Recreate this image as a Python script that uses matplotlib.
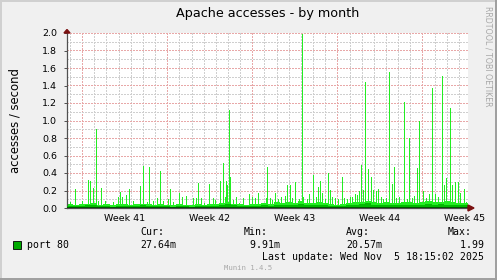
import numpy as np
import matplotlib
matplotlib.use("Agg")
import matplotlib.pyplot as plt
from matplotlib.patches import Rectangle, Polygon
from matplotlib.lines import Line2D

# spikes of the max series (day offset from graph start, accesses/s)
spike_day = [0.02, 0.25, 0.62, 1.24, 1.48, 1.73, 1.89, 2.14, 2.39, 2.55, 2.80, 3.13,
             3.38, 3.79, 4.20, 4.37, 4.53, 4.86, 5.11, 5.44, 5.77, 6.01, 6.26, 6.59,
             6.75, 7.08, 7.41, 7.66, 7.91, 8.32, 8.48, 8.73, 9.23, 9.47, 9.80, 10.38,
             10.63, 10.79, 11.04, 11.28, 11.70, 12.03, 12.19, 12.44, 12.60, 12.85, 13.01,
             13.10, 13.18, 13.34, 13.43, 13.67, 13.92, 14.17, 14.50, 14.99, 15.24, 15.49,
             15.73, 16.06, 16.39, 16.47, 16.72, 16.89, 17.13, 17.38, 17.63, 17.96, 18.12,
             18.37, 18.53, 18.78, 19.11, 19.33, 19.44, 19.77, 19.93, 20.26, 20.51, 20.68,
             20.84, 21.00, 21.25, 21.50, 21.66, 21.83, 22.08, 22.32, 22.65, 22.82, 23.06,
             23.31, 23.48, 23.72, 23.89, 24.05, 24.22, 24.38, 24.55, 24.79, 25.04, 25.21,
             25.45, 25.62, 25.86, 26.03, 26.28, 26.52, 26.77, 26.94, 27.10, 27.35, 27.59,
             27.76, 28.01, 28.17, 28.42, 28.58, 28.83, 28.99, 29.32, 29.57, 29.82, 30.07,
             30.31, 30.56, 30.89, 31.05, 31.22, 31.55, 31.71, 31.96, 32.21, 32.37, 32.70,
             32.87]
spike_max = [0.16, 0.07, 0.22, 0.08, 0.05, 0.32, 0.31, 0.23, 0.90, 0.08, 0.23, 0.08,
             0.05, 0.07, 0.13, 0.18, 0.13, 0.15, 0.22, 0.08, 0.05, 0.25, 0.48, 0.07,
             0.47, 0.08, 0.12, 0.42, 0.08, 0.10, 0.22, 0.07, 0.17, 0.13, 0.14, 0.12,
             0.12, 0.29, 0.12, 0.06, 0.28, 0.12, 0.09, 0.05, 0.31, 0.51, 0.13,
             0.31, 0.26, 1.12, 0.35, 0.09, 0.13, 0.06, 0.12, 0.16, 0.13, 0.11,
             0.17, 0.06, 0.12, 0.47, 0.11, 0.09, 0.17, 0.10, 0.13, 0.14, 0.26,
             0.26, 0.12, 0.30, 0.10, 1.99, 0.13, 0.10, 0.16, 0.38, 0.13, 0.24,
             0.31, 0.17, 0.10, 0.40, 0.21, 0.13, 0.12, 0.10, 0.35, 0.12, 0.10,
             0.13, 0.13, 0.16, 0.15, 0.19, 0.49, 0.21, 1.44, 0.45, 0.35, 0.21,
             0.20, 0.22, 0.13, 0.10, 0.11, 1.55, 0.27, 0.47, 0.11, 0.13, 0.07,
             1.21, 0.10, 0.80, 0.12, 0.14, 0.46, 1.00, 0.19, 0.12, 0.16, 1.37,
             0.16, 0.13, 1.51, 0.26, 0.34, 1.14, 0.26, 0.30, 0.30, 0.17, 0.22,
             0.07]

# half-day levels
max_base = [0.05, 0.04, 0.045, 0.05, 0.055, 0.04, 0.045, 0.035, 0.045, 0.05, 0.04, 0.045,
            0.05, 0.045, 0.04, 0.045, 0.04, 0.04, 0.045, 0.04, 0.035, 0.045, 0.04, 0.045,
            0.045, 0.055, 0.065, 0.05, 0.045, 0.04, 0.045, 0.045, 0.055, 0.045, 0.065, 0.055,
            0.065, 0.06, 0.075, 0.055, 0.06, 0.065, 0.055, 0.045, 0.04, 0.045, 0.055, 0.065,
            0.065, 0.075, 0.065, 0.055, 0.065, 0.06, 0.055, 0.065, 0.065, 0.055, 0.065, 0.075,
            0.065, 0.065, 0.075, 0.065, 0.06, 0.055]
avg_vals = [0.02, 0.02, 0.02, 0.03, 0.03, 0.02, 0.02, 0.015, 0.02, 0.02, 0.02, 0.02,
            0.03, 0.02, 0.02, 0.02, 0.02, 0.015, 0.02, 0.02, 0.015, 0.02, 0.02, 0.02,
            0.02, 0.03, 0.05, 0.03, 0.02, 0.02, 0.02, 0.02, 0.03, 0.02, 0.03, 0.03,
            0.03, 0.04, 0.05, 0.03, 0.03, 0.03, 0.03, 0.02, 0.02, 0.02, 0.03, 0.04,
            0.05, 0.06, 0.04, 0.03, 0.04, 0.04, 0.03, 0.04, 0.04, 0.03, 0.04, 0.05,
            0.04, 0.05, 0.04, 0.04, 0.03, 0.03]
min_vals = [0.01, 0.01, 0.01, 0.01, 0.01, 0.01, 0.01, 0.01, 0.01, 0.01, 0.01, 0.01,
            0.01, 0.01, 0.01, 0.01, 0.01, 0.01, 0.01, 0.01, 0.01, 0.01, 0.01, 0.01,
            0.01, 0.015, 0.015, 0.015, 0.01, 0.015, 0.015, 0.015, 0.015]

week_labels = ["Week 41", "Week 42", "Week 43", "Week 44", "Week 45"]
week_start = [1.25, 8.25, 15.25, 22.25, 29.25]
y_ticks = [0.0, 0.2, 0.4, 0.6, 0.8, 1.0, 1.2, 1.4, 1.6, 1.8, 2.0]

legend_cols = ["Cur:", "Min:", "Avg:", "Max:"]
legend_vals = ["27.64m", " 9.91m", "20.57m", "  1.99"]

W, H = 497, 280
fig = plt.figure(figsize=(W / 100, H / 100), dpi=100, facecolor="#F0F0F0")
ax = fig.add_axes([67 / W, 1 - 208 / H, 401 / W, 175 / H], facecolor="white")
ax.set_xlim(0, 33)
ax.set_ylim(0, 2.0)

# grid
dots = (0, (1.4, 1.4))
for d in np.arange(0.25, 33, 1.0):
    is_major = abs((d - 1.25) % 7) < 1e-6
    ax.axvline(d, color="#E8A8A8" if is_major else "#CFCFCF", lw=0.72,
               ls=dots, zorder=1, antialiased=False)
for v in np.arange(0.1, 2.01, 0.1):
    is_major = round(v * 10) % 2 == 0
    ax.axhline(v, color="#E8A8A8" if is_major else "#CFCFCF", lw=0.72,
               ls=dots, zorder=1, antialiased=False)

half = np.arange(len(max_base)) * 0.5
ax.fill_between(np.append(half, 33), np.append(max_base, max_base[-1]), step="post",
                color="#22EE22", lw=0, zorder=2)
ax.vlines(spike_day, 0, spike_max, color="#22EE22", lw=0.55, zorder=2, antialiased=False)
ax.fill_between(np.append(half, 33), np.append(avg_vals, avg_vals[-1]), step="post",
                color="#00BB00", lw=0, zorder=3)
days = np.arange(len(min_vals)) * 1.0
ax.fill_between(np.append(days, 33), np.append(min_vals, min_vals[-1]), step="post",
                color="#005500", lw=0, zorder=4)

for s in ["top", "right"]:
    ax.spines[s].set_visible(False)
for s in ["left", "bottom"]:
    ax.spines[s].set_color("#505050")
    ax.spines[s].set_linewidth(0.9)

ax.set_yticks(y_ticks, [f"{v:.1f}" for v in y_ticks])
ax.set_xticks([w + 3.45 for w in week_start], week_labels)
ax.tick_params(axis="y", length=2, width=0.7, color="#505050", pad=5, labelsize=6.8)
ax.tick_params(axis="x", length=0, pad=4, labelsize=6.8)
ax.set_ylabel("accesses / second", fontsize=8.4, labelpad=15)

# axis arrows
ax.add_patch(Polygon([[-0.25, 2.0], [0.25, 2.0], [0, 2.04]], closed=True, clip_on=False,
                     color="#7A1010", zorder=6, transform=ax.transData))
fig.add_artist(Polygon([[468 / W, 1 - 205 / H], [468 / W, 1 - 211 / H],
                        [474 / W, 1 - 208 / H]], closed=True,
                       color="#7A1010", transform=fig.transFigure))

fig.text(267.5 / W, 1 - 13 / H, "Apache accesses - by month", ha="center", va="center",
         fontsize=9.2)
fig.text(488 / W, 1 - 56 / H, "RRDTOOL / TOBI OETIKER", rotation=270, ha="center",
         va="center", fontsize=5.7, color="#A8A8A8")

mono = "DejaVu Sans Mono"
fig.add_artist(Rectangle((13 / W, 1 - 249 / H), 8 / W, 8 / H, transform=fig.transFigure,
                         facecolor="#00AA00", edgecolor="black", lw=0.6))
fig.text(26.7 / W, 1 - 245 / H, "port 80", family=mono, fontsize=7.1, va="center")
col_x = [140.7, 244, 346, 447.7]
for cx, lab, val in zip(col_x, legend_cols, legend_vals):
    fig.text(cx / W, 1 - 232 / H, lab, family=mono, fontsize=7.1, va="center")
    fig.text(cx / W, 1 - 245 / H, val, family=mono, fontsize=7.1, va="center")
fig.text(261.7 / W, 1 - 257 / H, "Last update: Wed Nov  5 18:15:02 2025", family=mono,
         fontsize=7.1, va="center")
fig.text(248.5 / W, 1 - 268.5 / H, "Munin 1.4.5", family=mono, fontsize=5.2,
         color="#A8A8A8", ha="center", va="center")

# frame shading
fig.add_artist(Line2D([0, 1], [1 - 1 / H, 1 - 1 / H], color="#D0D0D0", lw=1.4,
                      transform=fig.transFigure))
fig.add_artist(Line2D([1 / W, 1 / W], [0, 1], color="#D0D0D0", lw=1.4,
                      transform=fig.transFigure))
fig.add_artist(Line2D([0, 1], [1 / H, 1 / H], color="#9E9E9E", lw=1.4,
                      transform=fig.transFigure))
fig.add_artist(Line2D([1 - 1 / W, 1 - 1 / W], [0, 1], color="#9E9E9E", lw=1.4,
                      transform=fig.transFigure))

fig.savefig("out.png", dpi=100, facecolor=fig.get_facecolor())
